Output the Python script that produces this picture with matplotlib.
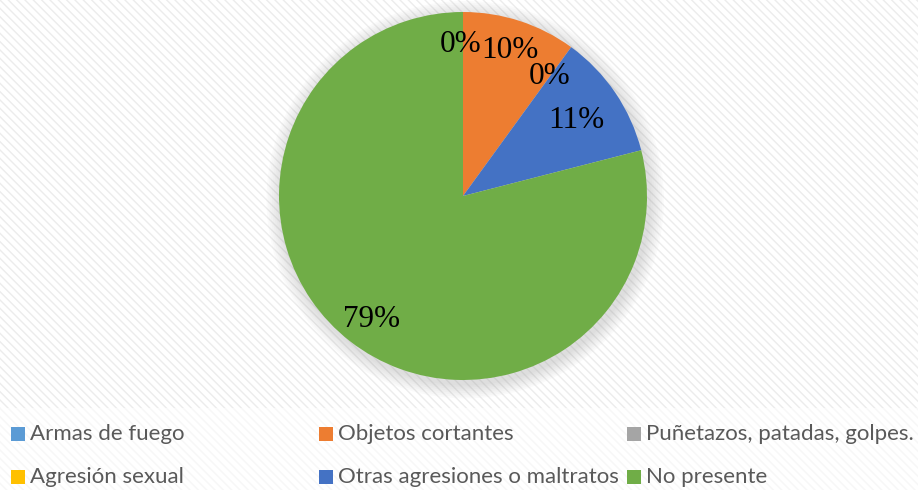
import matplotlib
matplotlib.use("Agg")
import matplotlib.pyplot as plt
from matplotlib.patches import Rectangle, Circle

categories = ["Armas de fuego", "Objetos cortantes", "Puñetazos, patadas, golpes.",
              "Agresión sexual", "Otras agresiones o maltratos", "No presente"]
values = [0, 10, 0, 0, 11, 79]
labels = ["0%", "10%", "0%", "", "11%", "79%"]
colors = ["#5B9BD5", "#ED7D31", "#A5A5A5", "#FFC000", "#4472C4", "#70AD47"]

W, H = 918, 490
fig = plt.figure(figsize=(W / 100, H / 100), dpi=100)
fig.patch.set_facecolor("white")

# hatched background
bg = Rectangle((0, 0), 1, 1, transform=fig.transFigure, facecolor="white",
               edgecolor="#ececec", hatch="\\\\\\\\", linewidth=0, zorder=-10)
fig.add_artist(bg)
wb = Rectangle((0, 0), 1, 82 / H, transform=fig.transFigure, facecolor="white",
               edgecolor="none", zorder=-9, alpha=0.6)
fig.add_artist(wb)

# pie axes: center (463,196), radius 184
cx, cy, r = 463, 196, 184
ax = fig.add_axes([(cx - r) / W, (H - cy - r) / H, 2 * r / W, 2 * r / H])
ax.set_xlim(-1, 1)
ax.set_ylim(-1, 1)
ax.set_aspect("equal")
ax.axis("off")

# soft shadow
for i in range(8):
    ax.add_patch(Circle((0.012, -0.02), 1.0 + 0.01 * (8 - i), facecolor="#8a8a8a",
                        edgecolor="none", alpha=0.035, zorder=0, clip_on=False))

wedges, _ = ax.pie(values, colors=colors, startangle=90, counterclock=False,
                   radius=1.0, wedgeprops=dict(linewidth=0), frame=False)
for w in wedges:
    w.set_zorder(2)
ax.set_xlim(-1, 1)
ax.set_ylim(-1, 1)

# data labels (pixel positions of label centres)
label_pos = [(461, 45), (510, 51), (550, 77), None, (576, 121), (372, 319)]
for lab, pos in zip(labels, label_pos):
    if pos is None or not lab:
        continue
    x, y = pos
    fig.text(x / W, 1 - y / H, lab, ha="center", va="center",
             fontsize=22.5, family="Liberation Serif", color="black", zorder=5)

# legend (row-wise, 3 columns)
col_x = [11, 319, 627]
row_y = [434, 477]
for i, (cat, col) in enumerate(zip(categories, colors)):
    x = col_x[i % 3]
    y = row_y[i // 3]
    fig.add_artist(Rectangle((x / W, 1 - (y + 7) / H), 14 / W, 14 / H,
                             transform=fig.transFigure, facecolor=col, edgecolor="none"))
    fig.text((x + 19) / W, 1 - y / H, cat, ha="left", va="center",
             fontsize=16, family="Lato", color="#595959")

fig.savefig("out.png", dpi=100)
